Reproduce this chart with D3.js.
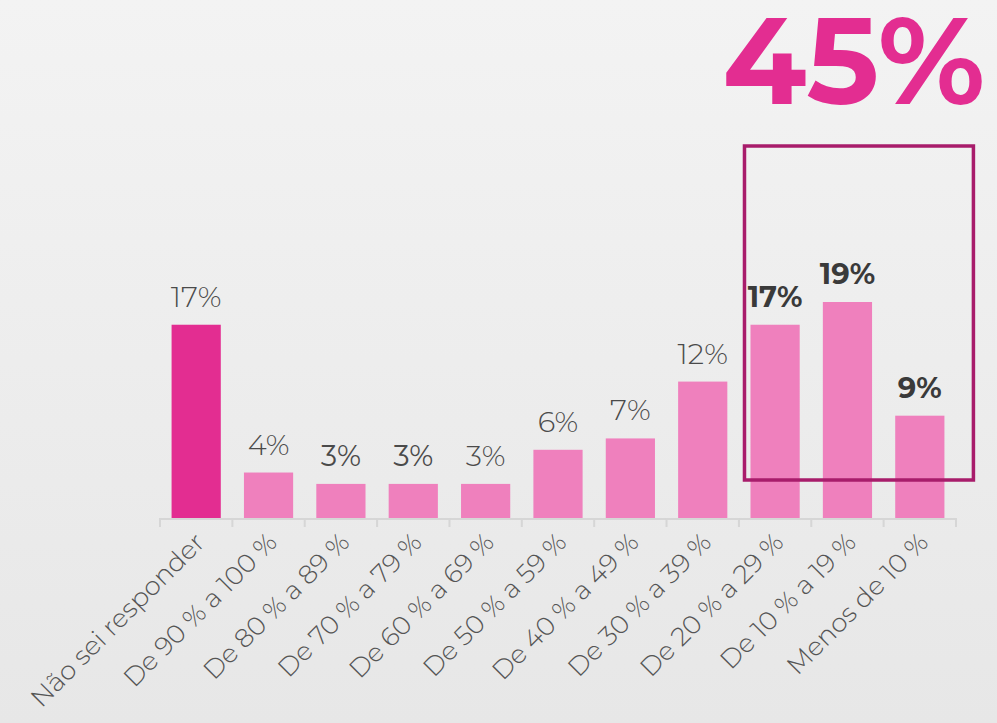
<!DOCTYPE html>
<html>
<head>
<meta charset="utf-8">
<script src="https://cdn.jsdelivr.net/npm/d3@7"></script>
<style>
  html, body { margin: 0; padding: 0; background: #ececec; }
  svg { display: block; }
</style>
</head>
<body>
<svg id="main-chart"></svg>
<script>
const categories = ["Não sei responder", "De 90 % a 100 %", "De 80 % a 89 %", "De 70 % a 79 %",
  "De 60 % a 69 %", "De 50 % a 59 %", "De 40 % a 49 %", "De 30 % a 39 %",
  "De 20 % a 29 %", "De 10 % a 19 %", "Menos de 10 %"];
const values = [17, 4, 3, 3, 3, 6, 7, 12, 17, 19, 9];
const labelWeights = [300, 300, 400, 400, 300, 300, 300, 300, 700, 700, 700];
const highlighted = ["De 20 % a 29 %", "De 10 % a 19 %", "Menos de 10 %"];
const highlightTotal = "45%";

const width = 997, height = 723;
const baseY = 518;
const font = "Montserrat, 'Noto Sans', sans-serif";

const svg = d3.select("#main-chart")
    .attr("width", width)
    .attr("height", height);

const defs = svg.append("defs");
const grad = defs.append("linearGradient")
    .attr("id", "bg").attr("x1", 0).attr("y1", 0).attr("x2", 0).attr("y2", 1);
grad.append("stop").attr("offset", "0%").attr("stop-color", "#f3f3f3");
grad.append("stop").attr("offset", "100%").attr("stop-color", "#e7e7e7");
svg.append("rect").attr("width", width).attr("height", height).attr("fill", "url(#bg)");

const x = d3.scaleBand()
    .domain(categories)
    .range([160, 956])
    .paddingInner(0.32)
    .paddingOuter(0.16);

const y = d3.scaleLinear()
    .domain([0, 19])
    .range([baseY, 302]);

// axis baseline + ticks at band edges
const edges = d3.range(categories.length + 1).map(i => 160 + i * (956 - 160) / categories.length);
svg.append("line")
    .attr("x1", 160).attr("x2", 956)
    .attr("y1", baseY + 1).attr("y2", baseY + 1)
    .attr("stroke", "#d6d6d6").attr("stroke-width", 2);
svg.append("g").selectAll("line")
  .data(edges)
  .join("line")
    .attr("x1", d => d).attr("x2", d => d)
    .attr("y1", baseY).attr("y2", baseY + 9)
    .attr("stroke", "#d6d6d6").attr("stroke-width", 2);

svg.append("g").selectAll("rect")
  .data(categories)
  .join("rect")
    .attr("x", d => x(d))
    .attr("width", x.bandwidth())
    .attr("y", (d, i) => y(values[i]))
    .attr("height", (d, i) => baseY - y(values[i]))
    .attr("fill", (d, i) => i === 0 ? "#e32d91" : "#ef80bd");

svg.append("g")
    .attr("font-family", font)
    .attr("font-size", 29)
    .attr("text-anchor", "middle")
  .selectAll("text")
  .data(categories)
  .join("text")
    .attr("x", d => x(d) + x.bandwidth() / 2)
    .attr("y", (d, i) => y(values[i]) - 18)
    .attr("font-weight", (d, i) => labelWeights[i])
    .attr("fill", (d, i) => labelWeights[i] === 700 ? "#3a3a3a" : "#4a4a4a")
    .text((d, i) => `${values[i]}%`);

// rotated category labels
svg.append("g")
    .attr("font-family", font)
    .attr("font-size", 26)
    .attr("font-weight", 300)
    .attr("fill", "#555")
    .attr("text-anchor", "end")
  .selectAll("text")
  .data(categories)
  .join("text")
    .attr("transform", d => `translate(${x(d) + x.bandwidth() / 2 + 10},${baseY + 26}) rotate(-45)`)
    .text(d => d);

// highlight box
const hx0 = x(highlighted[0]) - 6;
const hx1 = x(highlighted[highlighted.length - 1]) + x.bandwidth() + 29;
svg.append("rect")
    .attr("x", hx0).attr("y", 146)
    .attr("width", hx1 - hx0).attr("height", 480 - 146)
    .attr("fill", "none")
    .attr("stroke", "#a81c6b")
    .attr("stroke-width", 3.5);

svg.append("text")
    .attr("x", 985).attr("y", 104)
    .attr("text-anchor", "end")
    .attr("font-family", font)
    .attr("font-weight", 700)
    .attr("font-size", 122)
    .attr("fill", "#e32d91")
    .text(highlightTotal);
</script>
</body>
</html>
